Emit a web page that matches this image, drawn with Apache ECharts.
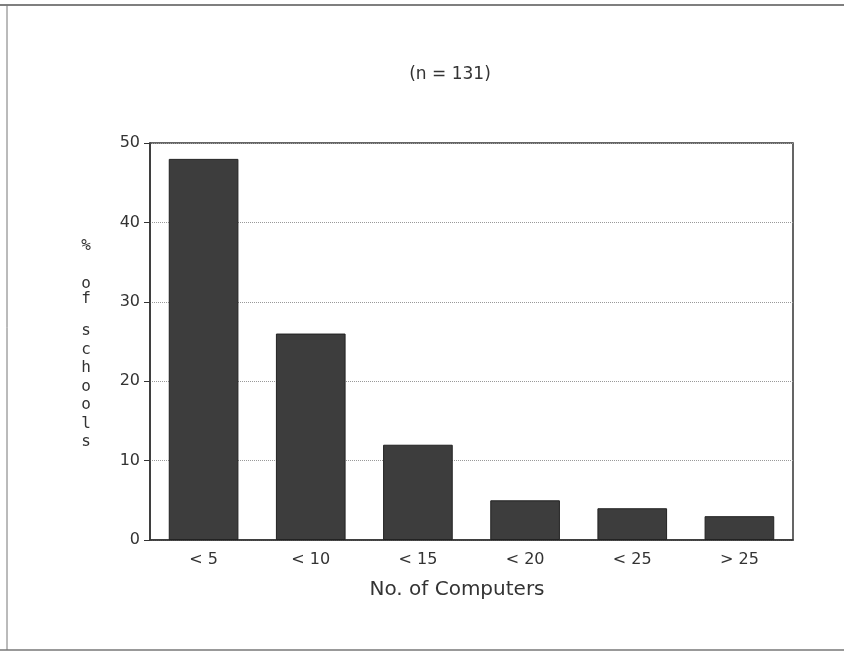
<!DOCTYPE html>
<html><head><meta charset="utf-8">
<script src="https://cdn.jsdelivr.net/npm/echarts@6/dist/echarts.min.js"></script>
<style>html,body{margin:0;padding:0;background:#fff}#c{width:844px;height:657px}</style>
</head><body><div id="c"></div>
<script>
var categories = ['< 5', '< 10', '< 15', '< 20', '< 25', '> 25'];
var percentSchools = [48, 26, 12, 5, 4, 3];
var yTicks = [0, 10, 20, 30, 40, 50];
var yNameWords = ['%', 'of', 'schools'];

var chart = echarts.init(document.getElementById('c'));
var txt = {fontFamily: 'DejaVu Sans Mono', fontSize: 16, fill: '#333', align: 'center', verticalAlign: 'middle'};
chart.setOption({
  backgroundColor: '#fff',
  animation: false,
  title: {
    text: '(n = 131)', left: 445, top: 61, textAlign: 'center',
    textStyle: {fontFamily: 'DejaVu Sans', fontWeight: 'normal', fontSize: 17, color: '#333'}
  },
  grid: {left: 150, right: 51, top: 143, bottom: 117, show: true, borderColor: '#333', borderWidth: 1.5, backgroundColor: 'transparent'},
  xAxis: {
    type: 'category', data: categories,
    axisLine: {show: true, lineStyle: {color: '#333', width: 1.5}},
    axisTick: {show: false},
    axisLabel: {color: '#333', fontFamily: 'DejaVu Sans', fontSize: 16, margin: 12}
  },
  yAxis: {
    type: 'value', min: yTicks[0], max: yTicks[yTicks.length - 1], interval: 10,
    axisLine: {show: true, lineStyle: {color: '#333', width: 1.5}},
    axisTick: {show: true, length: 6, lineStyle: {color: '#333'}},
    axisLabel: {color: '#333', fontFamily: 'DejaVu Sans', fontSize: 16, margin: 10},
    splitLine: {show: true, lineStyle: {color: '#999', type: 'dotted', width: 1}}
  },
  series: [{
    type: 'bar', data: percentSchools, barWidth: '65%',
    itemStyle: {color: '#3d3d3d', borderColor: '#222', borderWidth: 1}
  }],
  graphic: [
    {type: 'text', x: 457, y: 590, style: Object.assign({}, txt, {text: 'No. of Computers', fontFamily: 'DejaVu Sans', fontSize: 20})},
    {type: 'text', x: 86, y: 238, style: Object.assign({}, txt, {text: yNameWords[0], verticalAlign: 'top'})},
    {type: 'text', x: 86, y: 276, style: Object.assign({}, txt, {text: yNameWords[1].split('').join('\n'), lineHeight: 15, verticalAlign: 'top'})},
    {type: 'text', x: 86, y: 322, style: Object.assign({}, txt, {text: yNameWords[2].split('').join('\n'), lineHeight: 18.5, verticalAlign: 'top'})},
    {type: 'line', shape: {x1: 0, y1: 5, x2: 844, y2: 5}, style: {stroke: '#555', lineWidth: 1.5}},
    {type: 'line', shape: {x1: 7, y1: 5, x2: 7, y2: 650}, style: {stroke: '#777', lineWidth: 1}},
    {type: 'line', shape: {x1: 0, y1: 650, x2: 844, y2: 650}, style: {stroke: '#777', lineWidth: 1.5}}
  ]
});
</script></body></html>
